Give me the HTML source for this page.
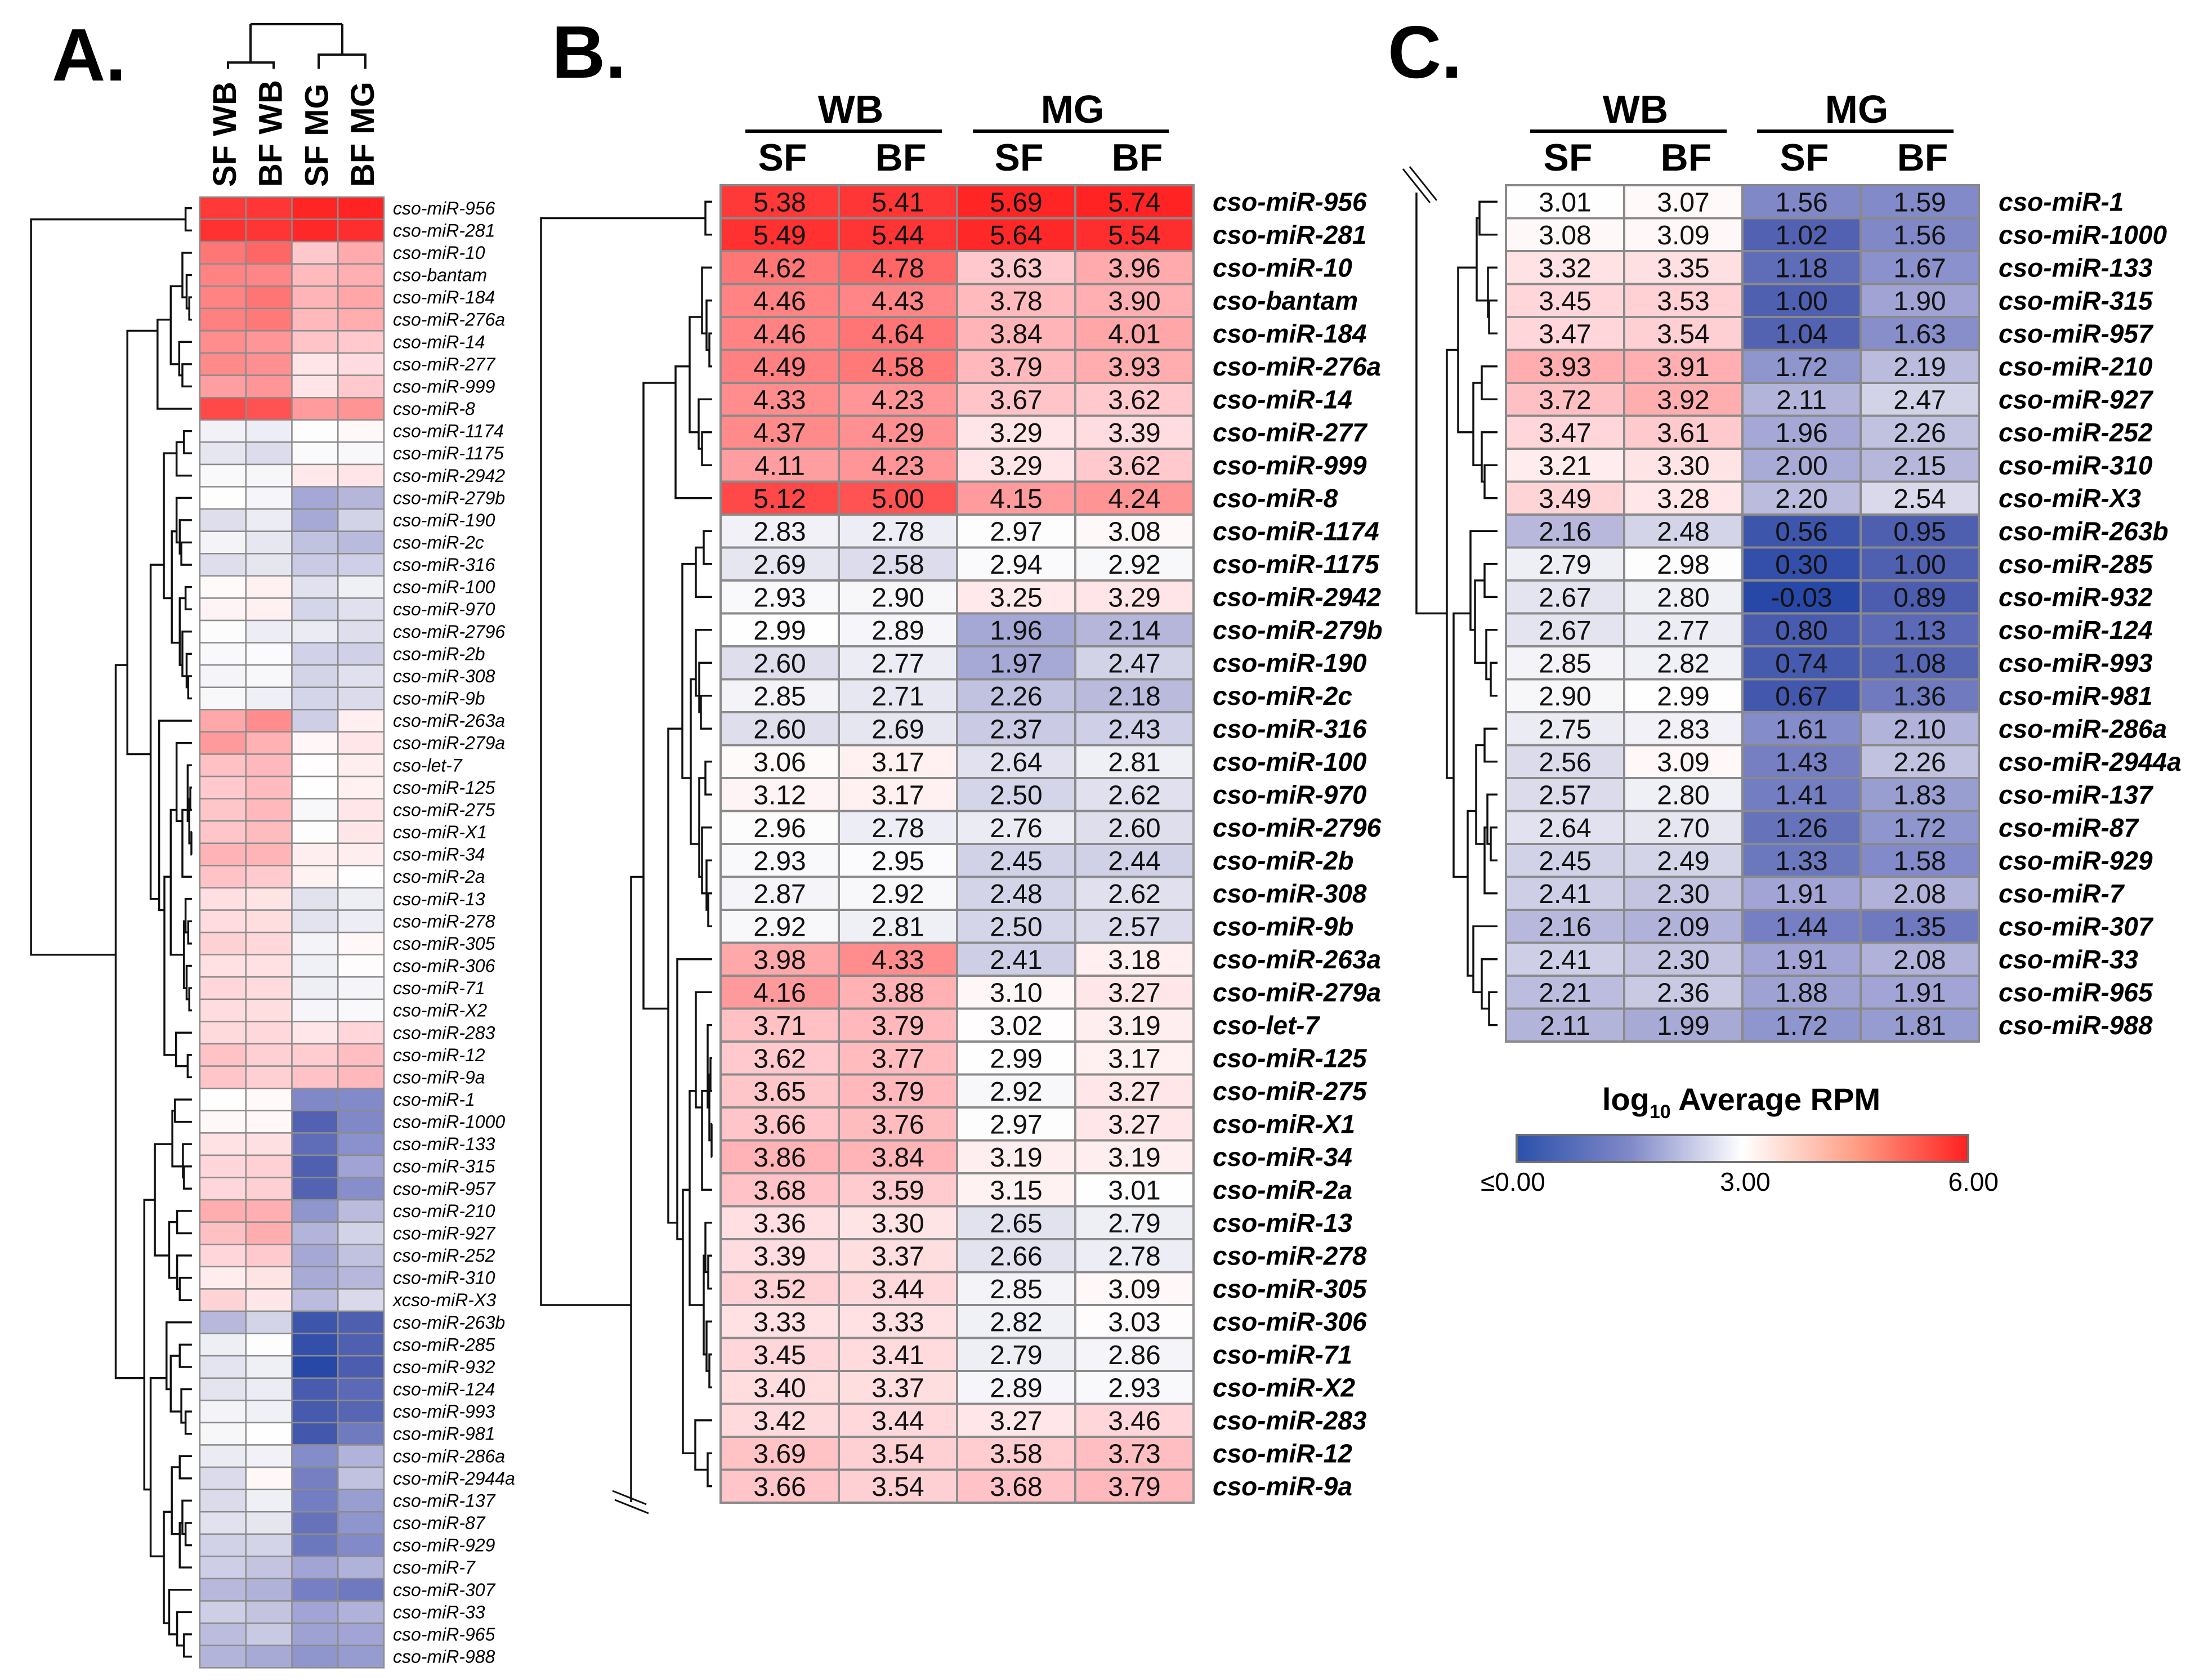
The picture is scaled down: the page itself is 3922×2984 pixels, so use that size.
<!DOCTYPE html>
<html><head><meta charset="utf-8"><title>miRNA heatmaps</title>
<style>html,body{margin:0;padding:0;background:#fff;width:3922px;height:2984px;overflow:hidden}svg{display:block}</style></head>
<body>
<svg id="fig" xmlns="http://www.w3.org/2000/svg" width="3922" height="2984" viewBox="0 0 3922 2984">
<rect width="3922" height="2984" fill="#fff"/>
<defs>
<clipPath id="clipB"><rect x="900" y="300" width="380" height="2368"/></clipPath>
<clipPath id="clipC"><rect x="2480" y="342" width="200" height="1560"/></clipPath>
<linearGradient id="cbar" x1="0" x2="1" y1="0" y2="0">
<stop offset="0" stop-color="#2b50aa"/><stop offset="0.25" stop-color="#8088c8"/><stop offset="0.5" stop-color="#ffffff"/><stop offset="0.75" stop-color="#ff9e85"/><stop offset="1" stop-color="#ff2020"/>
</linearGradient>
</defs>
<g font-family="'Liberation Sans', Arial, sans-serif" font-weight="bold">
<text x="92" y="143" font-size="132">A.</text>
<text x="980" y="138" font-size="132">B.</text>
<text x="2465" y="138" font-size="132">C.</text>
</g>
<g id="colDendro" stroke="#111" stroke-width="4" fill="none">
<path d="M445 43H608M445 43V111M405 122V111H486V122M608 43V97M566 122V97H649V122"/>
</g>
<g id="panelA"></g>
<g id="panelB"></g>
<g id="panelC"></g>
<g stroke="#111" stroke-width="3">
<line x1="1088" y1="2648" x2="1148" y2="2672"/><line x1="1092" y1="2664" x2="1152" y2="2688"/>
<line x1="2492" y1="300" x2="2540" y2="360"/><line x1="2504" y1="296" x2="2552" y2="356"/>
</g>
<g id="legend" font-family="'Liberation Sans', Arial, sans-serif">
<text x="3093" y="1972" font-size="56" font-weight="bold" text-anchor="middle">log<tspan font-size="34" dy="14">10</tspan><tspan dy="-14"> Average RPM</tspan></text>
<rect x="2694" y="2016" width="802" height="48" fill="url(#cbar)" stroke="#707070" stroke-width="4"/>
<text x="2630" y="2115" font-size="46">≤0.00</text>
<text x="3100" y="2115" font-size="46" text-anchor="middle">3.00</text>
<text x="3550" y="2115" font-size="46" text-anchor="end">6.00</text>
</g>
</svg>
<script>
const namesB = ["cso-miR-956","cso-miR-281","cso-miR-10","cso-bantam","cso-miR-184","cso-miR-276a","cso-miR-14","cso-miR-277","cso-miR-999","cso-miR-8","cso-miR-1174","cso-miR-1175","cso-miR-2942","cso-miR-279b","cso-miR-190","cso-miR-2c","cso-miR-316","cso-miR-100","cso-miR-970","cso-miR-2796","cso-miR-2b","cso-miR-308","cso-miR-9b","cso-miR-263a","cso-miR-279a","cso-let-7","cso-miR-125","cso-miR-275","cso-miR-X1","cso-miR-34","cso-miR-2a","cso-miR-13","cso-miR-278","cso-miR-305","cso-miR-306","cso-miR-71","cso-miR-X2","cso-miR-283","cso-miR-12","cso-miR-9a"];
const wbSF_B = [5.38,5.49,4.62,4.46,4.46,4.49,4.33,4.37,4.11,5.12,2.83,2.69,2.93,2.99,2.60,2.85,2.60,3.06,3.12,2.96,2.93,2.87,2.92,3.98,4.16,3.71,3.62,3.65,3.66,3.86,3.68,3.36,3.39,3.52,3.33,3.45,3.40,3.42,3.69,3.66];
const wbBF_B = [5.41,5.44,4.78,4.43,4.64,4.58,4.23,4.29,4.23,5.00,2.78,2.58,2.90,2.89,2.77,2.71,2.69,3.17,3.17,2.78,2.95,2.92,2.81,4.33,3.88,3.79,3.77,3.79,3.76,3.84,3.59,3.30,3.37,3.44,3.33,3.41,3.37,3.44,3.54,3.54];
const mgSF_B = [5.69,5.64,3.63,3.78,3.84,3.79,3.67,3.29,3.29,4.15,2.97,2.94,3.25,1.96,1.97,2.26,2.37,2.64,2.50,2.76,2.45,2.48,2.50,2.41,3.10,3.02,2.99,2.92,2.97,3.19,3.15,2.65,2.66,2.85,2.82,2.79,2.89,3.27,3.58,3.68];
const mgBF_B = [5.74,5.54,3.96,3.90,4.01,3.93,3.62,3.39,3.62,4.24,3.08,2.92,3.29,2.14,2.47,2.18,2.43,2.81,2.62,2.60,2.44,2.62,2.57,3.18,3.27,3.19,3.17,3.27,3.27,3.19,3.01,2.79,2.78,3.09,3.03,2.86,2.93,3.46,3.73,3.79];
const namesC = ["cso-miR-1","cso-miR-1000","cso-miR-133","cso-miR-315","cso-miR-957","cso-miR-210","cso-miR-927","cso-miR-252","cso-miR-310","cso-miR-X3","cso-miR-263b","cso-miR-285","cso-miR-932","cso-miR-124","cso-miR-993","cso-miR-981","cso-miR-286a","cso-miR-2944a","cso-miR-137","cso-miR-87","cso-miR-929","cso-miR-7","cso-miR-307","cso-miR-33","cso-miR-965","cso-miR-988"];
const wbSF_C = [3.01,3.08,3.32,3.45,3.47,3.93,3.72,3.47,3.21,3.49,2.16,2.79,2.67,2.67,2.85,2.90,2.75,2.56,2.57,2.64,2.45,2.41,2.16,2.41,2.21,2.11];
const wbBF_C = [3.07,3.09,3.35,3.53,3.54,3.91,3.92,3.61,3.30,3.28,2.48,2.98,2.80,2.77,2.82,2.99,2.83,3.09,2.80,2.70,2.49,2.30,2.09,2.30,2.36,1.99];
const mgSF_C = [1.56,1.02,1.18,1.00,1.04,1.72,2.11,1.96,2.00,2.20,0.56,0.30,-0.03,0.80,0.74,0.67,1.61,1.43,1.41,1.26,1.33,1.91,1.44,1.91,1.88,1.72];
const mgBF_C = [1.59,1.56,1.67,1.90,1.63,2.19,2.47,2.26,2.15,2.54,0.95,1.00,0.89,1.13,1.08,1.36,2.10,2.26,1.83,1.72,1.58,2.08,1.35,2.08,1.91,1.81];
const namesA_C = namesC.map(n => n === "cso-miR-X3" ? "xcso-miR-X3" : n);
const colLabelsA = ["SF WB","BF WB","SF MG","BF MG"];
const subLabels = ["SF","BF","SF","BF"];
const groupLabels = ["WB","MG"];
const tree = [319,[27,0,1],[159,
  [137,
    [80,[55,[33,2,[25,3,[20,4,5]]],[39,6,[33,7,8]]],9],
    [93,
      [68,[44,[30,10,11],12],[53,[44,13,[38,14,[35,15,16]]],[38,[27,17,18],[33,19,[25,20,[22,21,22]]]]]],
      [77,23,[67,[55,[44,24,[33,[23,25,[20,[18,26,27],[16,28,29]]],30]],[30,[27,31,[22,32,33]],[25,34,[20,35,36]]]],[45,37,[23,38,39]]]]]],
  [105,
    [85,[52,[47,40,41],[32,42,[30,43,44]]],[58,[43,45,46],[43,47,[38,48,49]]]],
    [93,[63,50,[55,[38,51,52],[35,53,[27,54,55]]]],[68,[53,[38,56,57],[38,[33,58,[27,59,60]],61]],[58,62,[43,63,[30,64,65]]]]]]]];

const NS = "http://www.w3.org/2000/svg";
const FONT = "'Liberation Sans', Arial, sans-serif";
function mk(tag, attrs, parent){const e=document.createElementNS(NS,tag);for(const k in attrs)e.setAttribute(k,attrs[k]);parent.appendChild(e);return e;}

const stops = [[0,[40,72,168]],[1.0,[80,96,176]],[1.56,[128,136,200]],[2.16,[184,184,220]],[2.67,[228,228,240]],[3.0,[255,255,255]],[3.3,[255,228,230]],[3.63,[255,200,204]],[3.96,[255,170,172]],[4.62,[255,118,118]],[5.12,[255,72,72]],[5.7,[255,36,36]],[6,[255,25,25]]];
function colorOf(v){
  if(v<=stops[0][0])return `rgb(${stops[0][1].join(',')})`;
  for(let i=1;i<stops.length;i++){if(v<=stops[i][0]){const a=stops[i-1],b=stops[i],t=(v-a[0])/(b[0]-a[0]);const c=a[1].map((x,j)=>Math.round(x+(b[1][j]-x)*t));return `rgb(${c.join(',')})`;}}
  return `rgb(${stops[stops.length-1][1].join(',')})`;
}

const allVals = [wbSF_B.concat(wbSF_C), wbBF_B.concat(wbBF_C), mgSF_B.concat(mgSF_C), mgBF_B.concat(mgBF_C)];

function leaves(n){return typeof n==="number"?[n]:leaves(n[1]).concat(leaves(n[2]));}
function drawTree(node, g, X, rowY){
  if(typeof node==="number")return {x:X(15), y:rowY(node)};
  const a=drawTree(node[1],g,X,rowY), b=drawTree(node[2],g,X,rowY);
  const lv=leaves(node); const y=lv.reduce((s,i)=>s+rowY(i),0)/lv.length;
  const x=X(node[0]);
  const p=mk("path",{d:`M${a.x} ${a.y}H${x}V${b.y}H${b.x}`,fill:"none",stroke:"#111","stroke-width":3.5},g);
  
  
  return {x,y};
}

(function(){
  const g=document.getElementById("panelA");
  const left=355, top=350, cw=81.75, rh=39.58;
  const rowY=i=>top+(i+0.5)*rh;
  const names=namesB.concat(namesA_C);
  colLabelsA.forEach((t,j)=>{
    const cx=left+(j+0.5)*cw+2;
    const e=mk("text",{x:cx+21,y:332,"font-size":58,"font-weight":"bold","font-family":FONT,transform:`rotate(-90 ${cx+21} 332)`},g);
    e.textContent=t;
    
    
  });
  for(let i=0;i<names.length;i++){
    for(let j=0;j<4;j++){
      const r=mk("rect",{x:left+j*cw,y:top+i*rh,width:cw,height:rh,fill:colorOf(allVals[j][i]),stroke:"#8c8c8c","stroke-width":2.5},g);
      
      
    }
    const t=mk("text",{x:698,y:rowY(i)+11,"font-size":32,"font-style":"italic","font-family":FONT},g);
    t.textContent=names[i];
    
    
  }
  const dg=mk("g",{},g);
  
  
  drawTree(tree,dg,d=>left-d*0.94,rowY);
})();

function tablePanel(gid, names, offset, left, leftLabelX, groupCenters, lineSpans, clipId){
  const g=document.getElementById(gid);
  const top=329, cw=210, rh=58.5;
  const rowY=i=>top+(i-offset+0.5)*rh;
  groupLabels.forEach((t,k)=>{
    const e=mk("text",{x:groupCenters[k],y:218,"font-size":70,"font-weight":"bold","font-family":FONT,"text-anchor":"middle"},g);
    e.textContent=t;
    
    
    const l=mk("line",{x1:lineSpans[k][0],x2:lineSpans[k][1],y1:233,y2:233,stroke:"#000","stroke-width":6},g);
    
    
  });
  subLabels.forEach((t,j)=>{
    const e=mk("text",{x:left+(j+0.5)*cw+5,y:303,"font-size":68,"font-weight":"bold","font-family":FONT,"text-anchor":"middle"},g);
    e.textContent=t;
    
    
  });
  for(let r=0;r<names.length;r++){
    const i=r+offset;
    for(let j=0;j<4;j++){
      const v=allVals[j][i];
      const rc=mk("rect",{x:left+j*cw,y:top+r*rh,width:cw,height:rh,fill:colorOf(v),stroke:"#8a8a8a","stroke-width":4},g);
      
      
      const tx=mk("text",{x:left+(j+0.5)*cw,y:top+(r+0.5)*rh+17,"font-size":48,"font-family":FONT,"text-anchor":"middle",fill:"#111"},g);
      tx.textContent=v.toFixed(2);
      
      
    }
    const t=mk("text",{x:leftLabelX,y:top+(r+0.5)*rh+16,"font-size":46,"font-weight":"bold","font-style":"italic","font-family":FONT},g);
    t.textContent=names[r];
    
    
  }
  const dg=mk("g",{"clip-path":`url(#${clipId})`},g);
  
  
  drawTree(tree,dg,d=>left-d,rowY);
}
tablePanel("panelB", namesB, 0, 1280, 2154, [1511,1905], [[1324,1673],[1728,2076]], "clipB");
tablePanel("panelC", namesC, 40, 2675, 3550, [2905,3298], [[2718,3067],[3121,3470]], "clipC");
</script>
</body></html>
